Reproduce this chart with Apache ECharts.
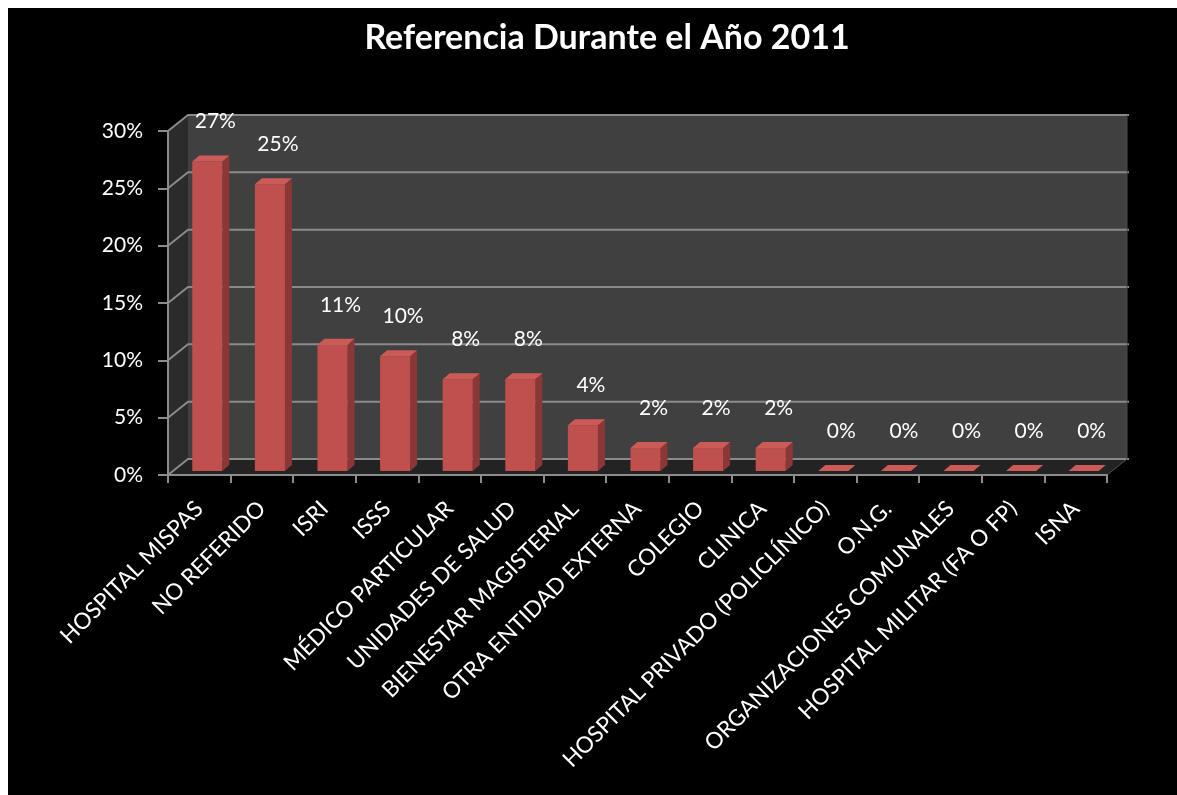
<!DOCTYPE html>
<html>
<head>
<meta charset="utf-8">
<script src="https://cdn.jsdelivr.net/npm/echarts@6/dist/echarts.min.js"></script>
<style>
  html, body { margin: 0; padding: 0; background: #ffffff; }
  #chart { position: absolute; left: 8px; top: 8px; width: 1169px; height: 787px; background: #000; }
</style>
</head>
<body>
<div id="chart"></div>
<script>
const titleText = 'Referencia Durante el Año 2011';
const categories = [
  'HOSPITAL MISPAS', 'NO REFERIDO', 'ISRI', 'ISSS', 'MÉDICO PARTICULAR',
  'UNIDADES DE SALUD', 'BIENESTAR MAGISTERIAL', 'OTRA ENTIDAD EXTERNA', 'COLEGIO', 'CLINICA',
  'HOSPITAL PRIVADO (POLICLÍNICO)', 'O.N.G.', 'ORGANIZACIONES COMUNALES', 'HOSPITAL MILITAR (FA O FP)', 'ISNA'
];
const values = [27, 25, 11, 10, 8, 8, 4, 2, 2, 2, 0, 0, 0, 0, 0];
const yTicks = [0, 5, 10, 15, 20, 25, 30];

// depth of the 3D box (pixels)
const DX = 20, DY = -16;
const FONT = 'Lato, "Open Sans", sans-serif';

const chart = echarts.init(document.getElementById('chart'), null, { renderer: 'canvas' });

function wallsRender(params, api) {
  const n = categories.length;
  const bw = api.size([1, 0])[0];
  const x0 = api.coord([0, 0])[0] - bw / 2;
  const x1 = api.coord([n - 1, 0])[0] + bw / 2;
  const y0 = api.coord([0, yTicks[0]])[1];
  const yTop = api.coord([0, yTicks[yTicks.length - 1]])[1];
  const children = [];
  children.push({ type: 'polygon', shape: { points: [[x0 + DX, yTop + DY], [x1 + DX, yTop + DY], [x1 + DX, y0 + DY], [x0 + DX, y0 + DY]] },
    style: { fill: '#404040' } });
  children.push({ type: 'polygon', shape: { points: [[x0, y0], [x0, yTop], [x0 + DX, yTop + DY], [x0 + DX, y0 + DY]] },
    style: { fill: '#2b2b2b' } });
  children.push({ type: 'polygon', shape: { points: [[x0, y0], [x1, y0], [x1 + DX, y0 + DY], [x0 + DX, y0 + DY]] },
    style: { fill: '#232323' } });
  yTicks.forEach(function (t) {
    const y = api.coord([0, t])[1];
    children.push({ type: 'polyline', shape: { points: [[x0, y], [x0 + DX, y + DY], [x1 + DX + 2, y + DY]] },
      style: { stroke: '#8a8a8a', lineWidth: 2, fill: null } });
  });
  children.push({ type: 'line', shape: { x1: x1 + DX, y1: yTop + DY, x2: x1 + DX, y2: y0 + DY },
    style: { stroke: '#4a4a4a', lineWidth: 1 } });
  children.push({ type: 'line', shape: { x1: x1, y1: y0, x2: x1 + DX, y2: y0 + DY },
    style: { stroke: '#555', lineWidth: 1 } });
  return { type: 'group', children: children };
}

function barRender(params, api) {
  const idx = api.value(0);
  const val = api.value(1);
  const top = api.coord([idx, val]);
  const base = api.coord([idx, 0]);
  const bw = api.size([1, 0])[0];
  const w = bw * 0.48;
  const ox = 8, oy = -4;
  const sx = 7, sy = -6;
  const cx = top[0] + ox;
  const xl = cx - w / 2, xr = cx + w / 2;
  const yt = top[1] + oy, yb = base[1] + oy;
  return {
    type: 'group',
    children: [
      { type: 'polygon', shape: { points: [[xr, yt], [xr + sx, yt + sy], [xr + sx, yb + sy], [xr, yb]] },
        style: { fill: '#8a3735' } },
      { type: 'rect', shape: { x: xl, y: yt, width: w, height: Math.max(yb - yt, 0) },
        style: { fill: '#c0504d' } },
      { type: 'polygon', shape: { points: [[xl, yt], [xr, yt], [xr + sx, yt + sy], [xl + sx, yt + sy]] },
        style: { fill: '#cc5b58' } },
      { type: 'text', x: top[0] + 16, y: top[1] - 44,
        style: { text: val + '%', fill: '#ffffff', fontSize: 21, fontFamily: FONT, align: 'center', verticalAlign: 'middle' } }
    ]
  };
}

chart.setOption({
  backgroundColor: '#000000',
  animation: false,
  title: {
    text: titleText,
    left: 594,
    textAlign: 'center',
    top: 8,
    textStyle: { color: '#ffffff', fontSize: 34, fontWeight: 'bold', fontFamily: FONT }
  },
  grid: { left: 160, top: 123, right: 70, bottom: 320, containLabel: false },
  xAxis: {
    type: 'category',
    data: categories,
    boundaryGap: true,
    axisLine: { show: true, lineStyle: { color: '#8c8c8c', width: 2 } },
    axisTick: { show: true, length: 8, lineStyle: { color: '#8c8c8c', width: 2 } },
    axisLabel: { interval: 0, rotate: 45, color: '#ffffff', fontSize: 22.5, fontFamily: FONT, margin: 30 },
    splitLine: { show: false },
    z: 5
  },
  yAxis: {
    type: 'value',
    min: 0, max: 30, interval: 5,
    axisLine: { show: true, lineStyle: { color: '#8c8c8c', width: 2 } },
    axisTick: { show: true, length: 10, lineStyle: { color: '#8c8c8c', width: 2 } },
    axisLabel: { color: '#ffffff', fontSize: 21, fontFamily: FONT, margin: 25, formatter: '{value}%' },
    splitLine: { show: false },
    z: 5
  },
  series: [
    {
      type: 'custom',
      name: 'walls',
      renderItem: wallsRender,
      data: [[0, 0]],
      clip: false,
      silent: true,
      z: 0
    },
    {
      type: 'custom',
      name: 'Referencia',
      renderItem: barRender,
      data: values.map(function (v, i) { return [i, v]; }),
      clip: false,
      z: 3
    }
  ]
});
</script>
</body>
</html>
